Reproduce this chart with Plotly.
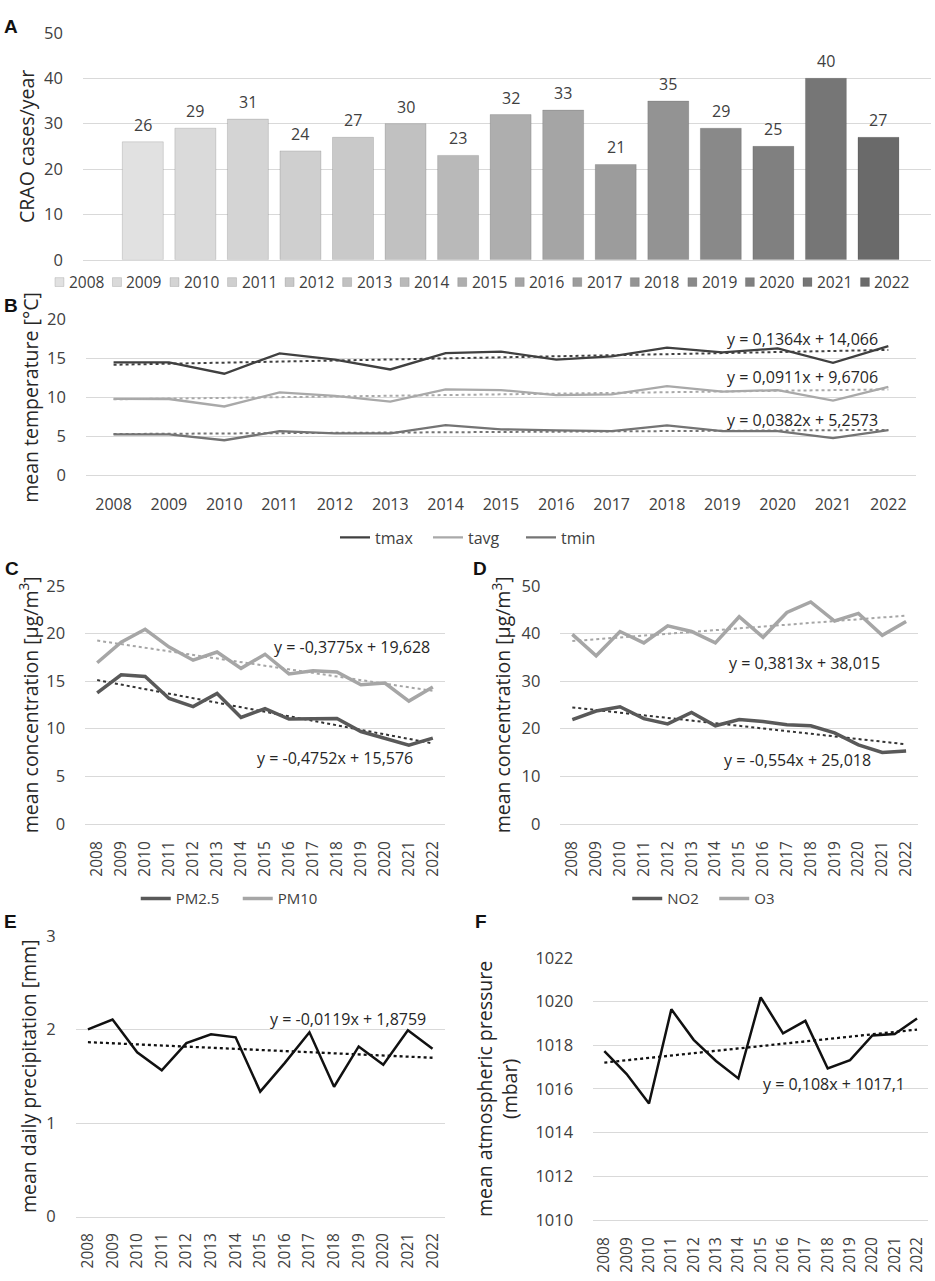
import numpy as np
import plotly.graph_objects as go

W, H = 935, 1281

# ---------------- data ----------------
years = [str(y) for y in range(2008, 2023)]
crao_cases = [26, 29, 31, 24, 27, 30, 23, 32, 33, 21, 35, 29, 25, 40, 27]
bar_colors = ["#e1e1e1", "#dadada", "#d4d4d4", "#cfcfcf", "#c9c9c9", "#c1c1c1", "#b9b9b9",
              "#aeaeae", "#a5a5a5", "#9c9c9c", "#939393", "#898989", "#808080", "#767676", "#6a6a6a"]

tmax = [14.5, 14.5, 13.05, 15.66, 14.86, 13.6, 15.7, 15.9, 14.86, 15.28, 16.4, 15.8, 16.3, 14.44, 16.6]
tavg = [9.81, 9.8, 8.84, 10.65, 10.19, 9.47, 11.03, 10.95, 10.3, 10.4, 11.45, 10.74, 10.95, 9.6, 11.37]
tmin = [5.26, 5.26, 4.5, 5.68, 5.39, 5.39, 6.44, 5.9, 5.77, 5.68, 6.4, 5.68, 5.68, 4.76, 5.81]

pm25 = [13.76, 15.65, 15.47, 13.17, 12.31, 13.69, 11.18, 12.1, 11.0, 11.07, 11.07, 9.7, 9.01, 8.25, 9.01]
pm10 = [16.92, 19.08, 20.43, 18.57, 17.19, 18.05, 16.33, 17.81, 15.75, 16.09, 15.96, 14.61, 14.79, 12.9, 14.37]

no2 = [21.9, 23.7, 24.6, 22.1, 21.0, 23.4, 20.6, 21.9, 21.5, 20.8, 20.6, 19.1, 16.6, 15.0, 15.3]
o3 = [39.8, 35.3, 40.4, 38.0, 41.6, 40.4, 38.0, 43.5, 39.2, 44.4, 46.6, 42.6, 44.2, 39.6, 42.5]

precip = [2.0, 2.105, 1.755, 1.563, 1.853, 1.948, 1.916, 1.336, 1.643, 1.969, 1.388, 1.818, 1.622, 1.99, 1.794]
pressure = [1017.73, 1016.68, 1015.33, 1019.65, 1018.25, 1017.28, 1016.48, 1020.2, 1018.55,
            1019.12, 1016.94, 1017.32, 1018.45, 1018.52, 1019.23]

# linear trendline coefficients shown in the chart (y = a*x + b, x = 1..15)
trend_tmax = [0.1364, 14.066]
trend_tavg = [0.0911, 9.6706]
trend_tmin = [0.0382, 5.2573]
trend_pm25 = [-0.4752, 15.576]
trend_pm10 = [-0.3775, 19.628]
trend_no2 = [-0.554, 25.018]
trend_o3 = [0.3813, 38.015]
trend_precip = [-0.0119, 1.8759]
trend_pressure = [0.108, 1017.1]

trend_labels = {
    "tmax": "y = 0,1364x + 14,066", "tavg": "y = 0,0911x + 9,6706", "tmin": "y = 0,0382x + 5,2573",
    "pm10": "y = -0,3775x + 19,628", "pm25": "y = -0,4752x + 15,576",
    "o3": "y = 0,3813x + 38,015", "no2": "y = -0,554x + 25,018",
    "precip": "y = -0,0119x + 1,8759", "pressure": "y = 0,108x + 1017,1",
}

# ---------------- helpers ----------------
FONT = "Open Sans"
TXT = "#404040"
GRID = "#d9d9d9"


def xd(a, b):
    return [a / W, b / W]


def yd(top, bottom):
    return [1 - bottom / H, 1 - top / H]


def trend(coef):
    xs = np.arange(1, len(years) + 1)
    return list(coef[0] * xs + coef[1])


fig = go.Figure()

# ---------------- A: bars ----------------
fig.add_trace(go.Bar(x=years, y=crao_cases, marker=dict(color=bar_colors, line=dict(color="rgba(0,0,0,0.13)", width=1)),
                     width=0.78, xaxis="x", yaxis="y", showlegend=False, hoverinfo="x+y"))

# ---------------- B: temperature ----------------
for name, vals, col, tc in [("tmax", tmax, "#404040", trend_tmax),
                            ("tavg", tavg, "#a9a9a9", trend_tavg),
                            ("tmin", tmin, "#747474", trend_tmin)]:
    fig.add_trace(go.Scatter(x=years, y=vals, mode="lines", name=name, line=dict(color=col, width=2.3),
                             xaxis="x2", yaxis="y2", legend="legend"))
    fig.add_trace(go.Scatter(x=years, y=trend(tc), mode="lines", line=dict(color=col, width=2, dash="dot"),
                             xaxis="x2", yaxis="y2", showlegend=False, hoverinfo="skip"))

# ---------------- C: PM ----------------
for name, vals, col, tcol, tc in [("PM2.5", pm25, "#595959", "#333333", trend_pm25),
                                  ("PM10", pm10, "#a6a6a6", "#a6a6a6", trend_pm10)]:
    fig.add_trace(go.Scatter(x=years, y=trend(tc), mode="lines", line=dict(color=tcol, width=2, dash="dot"),
                             xaxis="x3", yaxis="y3", showlegend=False, hoverinfo="skip"))
    fig.add_trace(go.Scatter(x=years, y=vals, mode="lines", name=name, line=dict(color=col, width=3.5),
                             xaxis="x3", yaxis="y3", legend="legend2"))

# ---------------- D: NO2 / O3 ----------------
for name, vals, col, tcol, tc in [("NO2", no2, "#595959", "#333333", trend_no2),
                                  ("O3", o3, "#a6a6a6", "#a6a6a6", trend_o3)]:
    fig.add_trace(go.Scatter(x=years, y=trend(tc), mode="lines", line=dict(color=tcol, width=2, dash="dot"),
                             xaxis="x4", yaxis="y4", showlegend=False, hoverinfo="skip"))
    fig.add_trace(go.Scatter(x=years, y=vals, mode="lines", name=name, line=dict(color=col, width=3.5),
                             xaxis="x4", yaxis="y4", legend="legend3"))

# ---------------- E: precipitation ----------------
fig.add_trace(go.Scatter(x=years, y=trend(trend_precip), mode="lines", line=dict(color="#111111", width=2.3, dash="dot"),
                         xaxis="x5", yaxis="y5", showlegend=False, hoverinfo="skip"))
fig.add_trace(go.Scatter(x=years, y=precip, mode="lines", line=dict(color="#111111", width=2.5),
                         xaxis="x5", yaxis="y5", showlegend=False))

# ---------------- F: pressure ----------------
fig.add_trace(go.Scatter(x=years, y=trend(trend_pressure), mode="lines", line=dict(color="#111111", width=2.3, dash="dot"),
                         xaxis="x6", yaxis="y6", showlegend=False, hoverinfo="skip"))
fig.add_trace(go.Scatter(x=years, y=pressure, mode="lines", line=dict(color="#111111", width=2.5),
                         xaxis="x6", yaxis="y6", showlegend=False))

# ---------------- axes ----------------
def xaxis(dom, anchor, rng, show=True, angle=0, standoff=12, size=16):
    return dict(domain=dom, anchor=anchor, type="category", range=rng, showgrid=False,
                showline=True, linecolor=GRID, linewidth=1.3, zeroline=False,
                showticklabels=show, tickangle=angle, ticks="", ticklabelstandoff=standoff,
                tickfont=dict(family=FONT, size=size, color=TXT), fixedrange=True)


def yaxis(dom, anchor, rng, dtick, title, tstand, size=16.5, tsize=19.5):
    return dict(domain=dom, anchor=anchor, range=rng, dtick=dtick, showgrid=True, gridcolor=GRID,
                gridwidth=1.3, zeroline=False, showline=False, ticks="", ticklabelstandoff=19,
                tickfont=dict(family=FONT, size=size, color=TXT),
                title=dict(text=title, standoff=tstand, font=dict(family=FONT, size=tsize, color="#262626")),
                fixedrange=True)


def legend(cx, cy, size, entry):
    return dict(orientation="h", x=cx / W, y=1 - cy / H, xanchor="center", yanchor="middle",
                entrywidth=entry, entrywidthmode="pixels",
                font=dict(family=FONT, size=size, color=TXT), bgcolor="rgba(0,0,0,0)")


layout = dict(
    width=W, height=H, margin=dict(l=0, r=0, t=0, b=0),
    paper_bgcolor="white", plot_bgcolor="white", barmode="overlay",
    font=dict(family=FONT, color=TXT),
    xaxis=xaxis(xd(82, 931), "y", [-1.14, 15.0], show=False),
    yaxis=yaxis(yd(21.3, 252.3), "x", [0, 50], 10, "CRAO cases/year", 4),
    xaxis2=xaxis(xd(85, 916), "y2", [-0.5, 14.5], standoff=14),
    yaxis2=yaxis(yd(313.3, 471.7), "x2", [0, 20], 5, "mean temperature [°C]", 3),
    xaxis3=xaxis(xd(84.3, 444.3), "y3", [-0.5, 14.5], angle=-90, standoff=10, size=15.5),
    yaxis3=yaxis(yd(584.3, 826.7), "x3", [0, 25], 5, "mean concentration [μg/m<sup>3</sup>]", 2.5),
    xaxis4=xaxis(xd(560, 918), "y4", [-0.5, 14.5], angle=-90, standoff=10, size=15.5),
    yaxis4=yaxis(yd(584.3, 826.7), "x4", [0, 50], 10, "mean concentration [μg/m<sup>3</sup>]", 5),
    xaxis5=xaxis(xd(74.7, 444.3), "y5", [-0.5, 14.5], angle=-90, standoff=9, size=15.5),
    yaxis5=yaxis(yd(940.7, 1226.7), "x5", [0, 3], 1, "mean daily precipitation [mm]", 4),
    xaxis6=xaxis(xd(592.8, 928.2), "y6", [-0.5, 14.5], angle=-90, standoff=10, size=15.5),
    yaxis6=yaxis(yd(963.3, 1230), "x6", [1010, 1022], 2, "mean atmospheric pressure<br>(mbar)", 12),
    legend=legend(474, 535, 16, 48),
    legend2=legend(237, 903, 15, 57),
    legend3=legend(714, 903, 15, 42),
)
fig.update_layout(**layout)

annotations = []
shapes = []

# bar value labels (category index positions)
for i, v in enumerate(crao_cases):
    annotations.append(dict(x=i, y=v, xref="x", yref="y", text=str(v), showarrow=False, yshift=17,
                            yanchor="middle", font=dict(family=FONT, size=16, color=TXT)))

# panel A legend (one entry per year, squares + labels)
leg_x0, leg_step, leg_y = 54.0, 57.6, 275.0
for i, (yr, c) in enumerate(zip(years, bar_colors)):
    x0 = leg_x0 + i * leg_step
    shapes.append(dict(type="rect", xref="paper", yref="paper", x0=x0 / W, x1=(x0 + 9) / W,
                       y0=1 - (leg_y + 4.5) / H, y1=1 - (leg_y - 4.5) / H,
                       fillcolor=c, line=dict(color="rgba(0,0,0,0.13)", width=1)))
    annotations.append(dict(x=(x0 + 12) / W, y=1 - leg_y / H, xref="paper", yref="paper", text=yr,
                            showarrow=False, xanchor="left", yanchor="middle",
                            font=dict(family=FONT, size=15.5, color=TXT)))

# trendline equations
for key, ax, x, y in [("tmax", "2", 13.85, 17.5), ("tavg", "2", 13.85, 12.6), ("tmin", "2", 13.85, 7.16),
                      ("pm10", "3", 13.95, 18.53), ("pm25", "3", 13.24, 6.88),
                      ("o3", "4", 12.97, 33.8), ("no2", "4", 12.6, 13.35),
                      ("precip", "5", 13.8, 2.116), ("pressure", "6", 13.55, 1016.21)]:
    annotations.append(dict(x=x, y=y, xref="x" + ax, yref="y" + ax, text=trend_labels[key], showarrow=False,
                            xanchor="right", yanchor="middle", font=dict(family=FONT, size=16, color="#262626")))

# panel letters
for letter, px, py in [("A", 10, 15), ("B", 10, 299), ("C", 11.5, 566.5), ("D", 480, 566.5),
                       ("E", 10, 926.5), ("F", 481, 926.5)]:
    annotations.append(dict(x=px / W, y=1 - py / H, xref="paper", yref="paper", text="<b>%s</b>" % letter,
                            showarrow=False, xanchor="center", yanchor="middle",
                            font=dict(family="Liberation Sans", size=19, color="#111111")))

fig.update_layout(annotations=annotations, shapes=shapes)
fig.write_html("out.html", config={"displayModeBar": False},
               post_script="document.body.style.margin='0';")
